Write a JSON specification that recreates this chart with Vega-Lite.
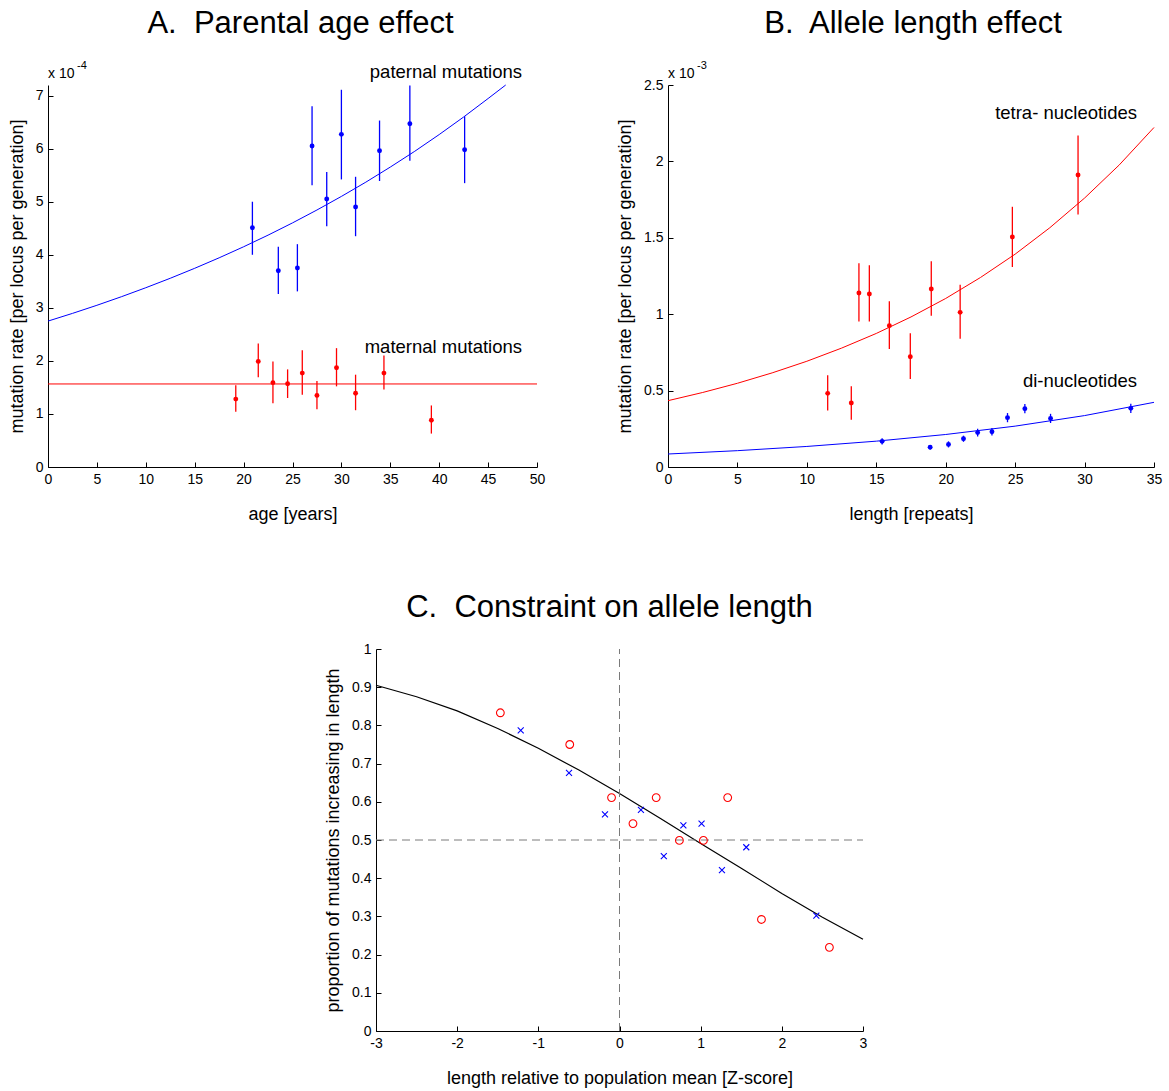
{
  "$schema": "https://vega.github.io/schema/vega-lite/v6.json",
  "background": "white",
  "padding": {"left": 8, "top": 8, "right": 5, "bottom": 3},
  "config": {
    "view": {"stroke": null},
    "font": "Liberation Sans",
    "axis": {
      "grid": false,
      "domainColor": "#000000",
      "tickColor": "#000000",
      "labelColor": "#000000",
      "titleColor": "#000000",
      "labelFont": "Liberation Sans",
      "titleFont": "Liberation Sans",
      "labelFontSize": 14,
      "titleFontSize": 18,
      "titleFontWeight": "normal",
      "tickSize": -5,
      "labelPadding": 10,
      "labelOverlap": false,
      "labelFlush": false
    },
    "axisX": {"titlePadding": 19},
    "axisY": {"titlePadding": 9},
    "title": {"font": "Liberation Sans", "fontSize": 31, "fontWeight": "normal", "color": "#000000", "anchor": "middle", "offset": 20}
  },
  "datasets": {
    "one": [{}],
    "aPts": [
      {"age": 20.9, "rate": 4.51, "lo": 4.0, "hi": 5.0, "parent": "paternal"},
      {"age": 23.55, "rate": 3.70, "lo": 3.26, "hi": 4.15, "parent": "paternal"},
      {"age": 25.5, "rate": 3.75, "lo": 3.31, "hi": 4.2, "parent": "paternal"},
      {"age": 27.0, "rate": 6.05, "lo": 5.31, "hi": 6.8, "parent": "paternal"},
      {"age": 28.5, "rate": 5.05, "lo": 4.54, "hi": 5.56, "parent": "paternal"},
      {"age": 30.0, "rate": 6.27, "lo": 5.42, "hi": 7.11, "parent": "paternal"},
      {"age": 31.45, "rate": 4.90, "lo": 4.35, "hi": 5.47, "parent": "paternal"},
      {"age": 33.9, "rate": 5.96, "lo": 5.39, "hi": 6.53, "parent": "paternal"},
      {"age": 37.0, "rate": 6.47, "lo": 5.77, "hi": 7.19, "parent": "paternal"},
      {"age": 42.6, "rate": 5.98, "lo": 5.35, "hi": 6.61, "parent": "paternal"},
      {"age": 19.2, "rate": 1.28, "lo": 1.04, "hi": 1.54, "parent": "maternal"},
      {"age": 21.5, "rate": 1.99, "lo": 1.69, "hi": 2.33, "parent": "maternal"},
      {"age": 23.0, "rate": 1.59, "lo": 1.20, "hi": 1.99, "parent": "maternal"},
      {"age": 24.5, "rate": 1.57, "lo": 1.30, "hi": 1.84, "parent": "maternal"},
      {"age": 26.0, "rate": 1.77, "lo": 1.36, "hi": 2.2, "parent": "maternal"},
      {"age": 27.5, "rate": 1.35, "lo": 1.09, "hi": 1.62, "parent": "maternal"},
      {"age": 29.5, "rate": 1.87, "lo": 1.52, "hi": 2.24, "parent": "maternal"},
      {"age": 31.45, "rate": 1.39, "lo": 1.07, "hi": 1.74, "parent": "maternal"},
      {"age": 34.35, "rate": 1.77, "lo": 1.46, "hi": 2.1, "parent": "maternal"},
      {"age": 39.2, "rate": 0.88, "lo": 0.63, "hi": 1.16, "parent": "maternal"}
    ],
    "aFit": [
      {"age": 0, "rate": 2.75, "parent": "paternal"},
      {"age": 2.5, "rate": 2.895, "parent": "paternal"},
      {"age": 5, "rate": 3.048, "parent": "paternal"},
      {"age": 7.5, "rate": 3.209, "parent": "paternal"},
      {"age": 10, "rate": 3.379, "parent": "paternal"},
      {"age": 12.5, "rate": 3.557, "parent": "paternal"},
      {"age": 15, "rate": 3.745, "parent": "paternal"},
      {"age": 17.5, "rate": 3.943, "parent": "paternal"},
      {"age": 20, "rate": 4.151, "parent": "paternal"},
      {"age": 22.5, "rate": 4.37, "parent": "paternal"},
      {"age": 25, "rate": 4.601, "parent": "paternal"},
      {"age": 27.5, "rate": 4.844, "parent": "paternal"},
      {"age": 30, "rate": 5.1, "parent": "paternal"},
      {"age": 32.5, "rate": 5.369, "parent": "paternal"},
      {"age": 35, "rate": 5.653, "parent": "paternal"},
      {"age": 37.5, "rate": 5.951, "parent": "paternal"},
      {"age": 40, "rate": 6.266, "parent": "paternal"},
      {"age": 42.5, "rate": 6.597, "parent": "paternal"},
      {"age": 45, "rate": 6.945, "parent": "paternal"},
      {"age": 46.8, "rate": 7.2, "parent": "paternal"},
      {"age": 0, "rate": 1.565, "parent": "maternal"},
      {"age": 50, "rate": 1.565, "parent": "maternal"}
    ],
    "bPts": [
      {"len": 11.5, "rate": 0.482, "lo": 0.37, "hi": 0.60, "type": "tetra"},
      {"len": 13.2, "rate": 0.419, "lo": 0.31, "hi": 0.528, "type": "tetra"},
      {"len": 13.75, "rate": 1.139, "lo": 0.953, "hi": 1.333, "type": "tetra"},
      {"len": 14.5, "rate": 1.132, "lo": 0.953, "hi": 1.32, "type": "tetra"},
      {"len": 15.94, "rate": 0.925, "lo": 0.772, "hi": 1.084, "type": "tetra"},
      {"len": 17.45, "rate": 0.722, "lo": 0.576, "hi": 0.875, "type": "tetra"},
      {"len": 18.96, "rate": 1.165, "lo": 0.99, "hi": 1.346, "type": "tetra"},
      {"len": 21.04, "rate": 1.012, "lo": 0.84, "hi": 1.193, "type": "tetra"},
      {"len": 24.8, "rate": 1.505, "lo": 1.309, "hi": 1.703, "type": "tetra"},
      {"len": 29.53, "rate": 1.911, "lo": 1.653, "hi": 2.17, "type": "tetra"},
      {"len": 15.42, "rate": 0.168, "lo": 0.148, "hi": 0.188, "type": "di"},
      {"len": 18.88, "rate": 0.129, "lo": 0.114, "hi": 0.144, "type": "di"},
      {"len": 20.2, "rate": 0.148, "lo": 0.128, "hi": 0.168, "type": "di"},
      {"len": 21.28, "rate": 0.185, "lo": 0.165, "hi": 0.205, "type": "di"},
      {"len": 22.3, "rate": 0.225, "lo": 0.2, "hi": 0.25, "type": "di"},
      {"len": 23.33, "rate": 0.231, "lo": 0.206, "hi": 0.256, "type": "di"},
      {"len": 24.45, "rate": 0.323, "lo": 0.293, "hi": 0.353, "type": "di"},
      {"len": 25.7, "rate": 0.382, "lo": 0.352, "hi": 0.412, "type": "di"},
      {"len": 27.55, "rate": 0.318, "lo": 0.288, "hi": 0.348, "type": "di"},
      {"len": 33.33, "rate": 0.384, "lo": 0.354, "hi": 0.414, "type": "di"}
    ],
    "bFit": [
      {"len": 0, "rate": 0.434, "type": "tetra"},
      {"len": 2.5, "rate": 0.4877, "type": "tetra"},
      {"len": 5, "rate": 0.548, "type": "tetra"},
      {"len": 7.5, "rate": 0.616, "type": "tetra"},
      {"len": 10, "rate": 0.692, "type": "tetra"},
      {"len": 12.5, "rate": 0.778, "type": "tetra"},
      {"len": 15, "rate": 0.874, "type": "tetra"},
      {"len": 17.5, "rate": 0.982, "type": "tetra"},
      {"len": 20, "rate": 1.103, "type": "tetra"},
      {"len": 22.5, "rate": 1.24, "type": "tetra"},
      {"len": 25, "rate": 1.393, "type": "tetra"},
      {"len": 27.5, "rate": 1.566, "type": "tetra"},
      {"len": 30, "rate": 1.76, "type": "tetra"},
      {"len": 32.5, "rate": 1.977, "type": "tetra"},
      {"len": 35, "rate": 2.222, "type": "tetra"},
      {"len": 0, "rate": 0.085, "type": "di"},
      {"len": 5, "rate": 0.1069, "type": "di"},
      {"len": 10, "rate": 0.1345, "type": "di"},
      {"len": 15, "rate": 0.1691, "type": "di"},
      {"len": 20, "rate": 0.2127, "type": "di"},
      {"len": 25, "rate": 0.2675, "type": "di"},
      {"len": 30, "rate": 0.3365, "type": "di"},
      {"len": 35, "rate": 0.4232, "type": "di"}
    ],
    "cPts": [
      {"z": -1.468, "p": 0.833, "kind": "circle"},
      {"z": -0.613, "p": 0.75, "kind": "circle"},
      {"z": -0.098, "p": 0.611, "kind": "circle"},
      {"z": 0.166, "p": 0.543, "kind": "circle"},
      {"z": 0.452, "p": 0.611, "kind": "circle"},
      {"z": 0.738, "p": 0.499, "kind": "circle"},
      {"z": 1.034, "p": 0.499, "kind": "circle"},
      {"z": 1.333, "p": 0.611, "kind": "circle"},
      {"z": 1.749, "p": 0.292, "kind": "circle"},
      {"z": 2.586, "p": 0.219, "kind": "circle"},
      {"z": -1.217, "p": 0.787, "kind": "cross"},
      {"z": -0.622, "p": 0.676, "kind": "cross"},
      {"z": -0.179, "p": 0.567, "kind": "cross"},
      {"z": 0.264, "p": 0.579, "kind": "cross"},
      {"z": 0.546, "p": 0.458, "kind": "cross"},
      {"z": 0.787, "p": 0.538, "kind": "cross"},
      {"z": 1.011, "p": 0.543, "kind": "cross"},
      {"z": 1.262, "p": 0.421, "kind": "cross"},
      {"z": 1.562, "p": 0.481, "kind": "cross"},
      {"z": 2.425, "p": 0.302, "kind": "cross"}
    ],
    "cFit": [
      {"z": -3, "p": 0.905},
      {"z": -2.5, "p": 0.875},
      {"z": -2, "p": 0.838},
      {"z": -1.5, "p": 0.792},
      {"z": -1, "p": 0.74},
      {"z": -0.5, "p": 0.683},
      {"z": 0, "p": 0.622},
      {"z": 0.5, "p": 0.557},
      {"z": 1, "p": 0.491},
      {"z": 1.5, "p": 0.426},
      {"z": 2, "p": 0.36},
      {"z": 2.5, "p": 0.298},
      {"z": 3, "p": 0.24}
    ],
    "cRef": [
      {"z": 0, "z2": 0, "p": 0, "p2": 1},
      {"z": -3, "z2": 3, "p": 0.5, "p2": 0.5}
    ]
  },
  "spacing": 69,
  "vconcat": [
    {
      "bounds": "flush",
      "spacing": 131,
      "hconcat": [
        {
          "width": 489,
          "height": 382,
          "title": {"text": "A.\u00a0 Parental age effect", "dx": 8},
          "layer": [
            {
              "data": {"name": "aFit"},
              "transform": [{"filter": "datum.parent === 'paternal'"}],
              "mark": {"type": "line", "color": "#0000ff", "strokeWidth": 1},
              "encoding": {
                "x": {"field": "age", "type": "quantitative", "scale": {"domain": [0, 50], "nice": false}, "axis": {"title": "age [years]", "values": [0, 5, 10, 15, 20, 25, 30, 35, 40, 45, 50], "format": "d"}},
                "y": {"field": "rate", "type": "quantitative", "scale": {"domain": [0, 7.2], "nice": false}, "axis": {"title": "mutation rate [per locus per generation]", "values": [0, 1, 2, 3, 4, 5, 6, 7], "format": "d"}}
              }
            },
            {
              "data": {"name": "aFit"},
              "transform": [{"filter": "datum.parent === 'maternal'"}],
              "mark": {"type": "line", "color": "#ff0000", "strokeWidth": 1},
              "encoding": {
                "x": {"field": "age", "type": "quantitative"},
                "y": {"field": "rate", "type": "quantitative"}
              }
            },
            {
              "data": {"name": "aPts"},
              "transform": [{"filter": "datum.parent === 'paternal'"}],
              "mark": {"type": "rule", "color": "#0000ff", "strokeWidth": 1.3},
              "encoding": {
                "x": {"field": "age", "type": "quantitative"},
                "y": {"field": "lo", "type": "quantitative"},
                "y2": {"field": "hi"}
              }
            },
            {
              "data": {"name": "aPts"},
              "transform": [{"filter": "datum.parent === 'maternal'"}],
              "mark": {"type": "rule", "color": "#ff0000", "strokeWidth": 1.3},
              "encoding": {
                "x": {"field": "age", "type": "quantitative"},
                "y": {"field": "lo", "type": "quantitative"},
                "y2": {"field": "hi"}
              }
            },
            {
              "data": {"name": "aPts"},
              "transform": [{"filter": "datum.parent === 'paternal'"}],
              "mark": {"type": "point", "shape": "circle", "filled": true, "color": "#0000ff", "size": 24, "opacity": 1},
              "encoding": {
                "x": {"field": "age", "type": "quantitative"},
                "y": {"field": "rate", "type": "quantitative"}
              }
            },
            {
              "data": {"name": "aPts"},
              "transform": [{"filter": "datum.parent === 'maternal'"}],
              "mark": {"type": "point", "shape": "circle", "filled": true, "color": "#ff0000", "size": 24, "opacity": 1},
              "encoding": {
                "x": {"field": "age", "type": "quantitative"},
                "y": {"field": "rate", "type": "quantitative"}
              }
            },
            {
              "data": {"name": "one"},
              "mark": {"type": "text", "align": "right", "baseline": "alphabetic", "fontSize": 18.5, "color": "#000000"},
              "encoding": {"x": {"datum": 48.47}, "y": {"datum": 7.33}, "text": {"value": "paternal mutations"}}
            },
            {
              "data": {"name": "one"},
              "mark": {"type": "text", "align": "right", "baseline": "alphabetic", "fontSize": 18.5, "color": "#000000"},
              "encoding": {"x": {"datum": 48.47}, "y": {"datum": 2.15}, "text": {"value": "maternal mutations"}}
            },
            {
              "data": {"name": "one"},
              "mark": {"type": "text", "align": "left", "baseline": "alphabetic", "fontSize": 14, "dy": -7, "color": "#000000"},
              "encoding": {"x": {"datum": 0}, "y": {"datum": 7.2}, "text": {"value": "x 10"}}
            },
            {
              "data": {"name": "one"},
              "mark": {"type": "text", "align": "left", "baseline": "alphabetic", "fontSize": 11, "dx": 29, "dy": -16, "color": "#000000"},
              "encoding": {"x": {"datum": 0}, "y": {"datum": 7.2}, "text": {"value": "-4"}}
            }
          ]
        },
        {
          "width": 486,
          "height": 382,
          "title": {"text": "B.\u00a0 Allele length effect", "dx": 2},
          "layer": [
            {
              "data": {"name": "bFit"},
              "transform": [{"filter": "datum.type === 'tetra'"}],
              "mark": {"type": "line", "color": "#ff0000", "strokeWidth": 1},
              "encoding": {
                "x": {"field": "len", "type": "quantitative", "scale": {"domain": [0, 35], "nice": false}, "axis": {"title": "length [repeats]", "values": [0, 5, 10, 15, 20, 25, 30, 35], "format": "d"}},
                "y": {"field": "rate", "type": "quantitative", "scale": {"domain": [0, 2.5], "nice": false}, "axis": {"title": "mutation rate [per locus per generation]", "values": [0, 0.5, 1, 1.5, 2, 2.5], "format": "~g"}}
              }
            },
            {
              "data": {"name": "bFit"},
              "transform": [{"filter": "datum.type === 'di'"}],
              "mark": {"type": "line", "color": "#0000ff", "strokeWidth": 1},
              "encoding": {
                "x": {"field": "len", "type": "quantitative"},
                "y": {"field": "rate", "type": "quantitative"}
              }
            },
            {
              "data": {"name": "bPts"},
              "transform": [{"filter": "datum.type === 'tetra'"}],
              "mark": {"type": "rule", "color": "#ff0000", "strokeWidth": 1.3},
              "encoding": {
                "x": {"field": "len", "type": "quantitative"},
                "y": {"field": "lo", "type": "quantitative"},
                "y2": {"field": "hi"}
              }
            },
            {
              "data": {"name": "bPts"},
              "transform": [{"filter": "datum.type === 'di'"}],
              "mark": {"type": "rule", "color": "#0000ff", "strokeWidth": 1.3},
              "encoding": {
                "x": {"field": "len", "type": "quantitative"},
                "y": {"field": "lo", "type": "quantitative"},
                "y2": {"field": "hi"}
              }
            },
            {
              "data": {"name": "bPts"},
              "transform": [{"filter": "datum.type === 'tetra'"}],
              "mark": {"type": "point", "shape": "circle", "filled": true, "color": "#ff0000", "size": 24, "opacity": 1},
              "encoding": {
                "x": {"field": "len", "type": "quantitative"},
                "y": {"field": "rate", "type": "quantitative"}
              }
            },
            {
              "data": {"name": "bPts"},
              "transform": [{"filter": "datum.type === 'di'"}],
              "mark": {"type": "point", "shape": "circle", "filled": true, "color": "#0000ff", "size": 24, "opacity": 1},
              "encoding": {
                "x": {"field": "len", "type": "quantitative"},
                "y": {"field": "rate", "type": "quantitative"}
              }
            },
            {
              "data": {"name": "one"},
              "mark": {"type": "text", "align": "right", "baseline": "alphabetic", "fontSize": 18.5, "color": "#000000"},
              "encoding": {"x": {"datum": 33.78}, "y": {"datum": 2.28}, "text": {"value": "tetra- nucleotides"}}
            },
            {
              "data": {"name": "one"},
              "mark": {"type": "text", "align": "right", "baseline": "alphabetic", "fontSize": 18.5, "color": "#000000"},
              "encoding": {"x": {"datum": 33.78}, "y": {"datum": 0.524}, "text": {"value": "di-nucleotides"}}
            },
            {
              "data": {"name": "one"},
              "mark": {"type": "text", "align": "left", "baseline": "alphabetic", "fontSize": 14, "dy": -7, "color": "#000000"},
              "encoding": {"x": {"datum": 0}, "y": {"datum": 2.5}, "text": {"value": "x 10"}}
            },
            {
              "data": {"name": "one"},
              "mark": {"type": "text", "align": "left", "baseline": "alphabetic", "fontSize": 11, "dx": 29, "dy": -16, "color": "#000000"},
              "encoding": {"x": {"datum": 0}, "y": {"datum": 2.5}, "text": {"value": "-3"}}
            }
          ]
        }
      ]
    },
    {
      "bounds": "flush",
      "spacing": 327,
      "hconcat": [
        {
          "data": {"name": "one"},
          "width": 1,
          "height": 382,
          "mark": {"type": "text"},
          "encoding": {"text": {"value": ""}}
        },
        {
          "width": 487,
          "height": 382,
          "title": {"text": "C.\u00a0 Constraint on allele length", "dx": -10, "offset": 18},
          "layer": [
            {
              "data": {"name": "cFit"},
              "mark": {"type": "line", "color": "#000000", "strokeWidth": 1.2},
              "encoding": {
                "x": {"field": "z", "type": "quantitative", "scale": {"domain": [-3, 3], "nice": false}, "axis": {"title": "length relative to population mean [Z-score]", "values": [-3, -2, -1, 0, 1, 2, 3], "labelExpr": "'' + datum.value"}},
                "y": {"field": "p", "type": "quantitative", "scale": {"domain": [0, 1], "nice": false}, "axis": {"title": "proportion of mutations increasing in length", "values": [0, 0.1, 0.2, 0.3, 0.4, 0.5, 0.6, 0.7, 0.8, 0.9, 1], "labelExpr": "'' + round(datum.value * 10) / 10", "tickCount": 20}}
              }
            },
            {
              "data": {"name": "cRef"},
              "mark": {"type": "rule", "color": "#7a7a7a", "strokeWidth": 1, "strokeDash": [8, 5]},
              "encoding": {
                "x": {"field": "z", "type": "quantitative"},
                "x2": {"field": "z2"},
                "y": {"field": "p", "type": "quantitative"},
                "y2": {"field": "p2"}
              }
            },
            {
              "data": {"name": "cPts"},
              "transform": [{"filter": "datum.kind === 'circle'"}],
              "mark": {"type": "point", "shape": "circle", "filled": false, "color": "#ff0000", "size": 60, "strokeWidth": 1.1, "opacity": 1},
              "encoding": {
                "x": {"field": "z", "type": "quantitative"},
                "y": {"field": "p", "type": "quantitative"}
              }
            },
            {
              "data": {"name": "cPts"},
              "transform": [{"filter": "datum.kind === 'cross'"}],
              "mark": {"type": "point", "shape": "M-1,-1L1,1M-1,1L1,-1", "filled": false, "color": "#0000ff", "size": 36, "strokeWidth": 1.1, "opacity": 1},
              "encoding": {
                "x": {"field": "z", "type": "quantitative"},
                "y": {"field": "p", "type": "quantitative"}
              }
            }
          ]
        }
      ]
    }
  ]
}
